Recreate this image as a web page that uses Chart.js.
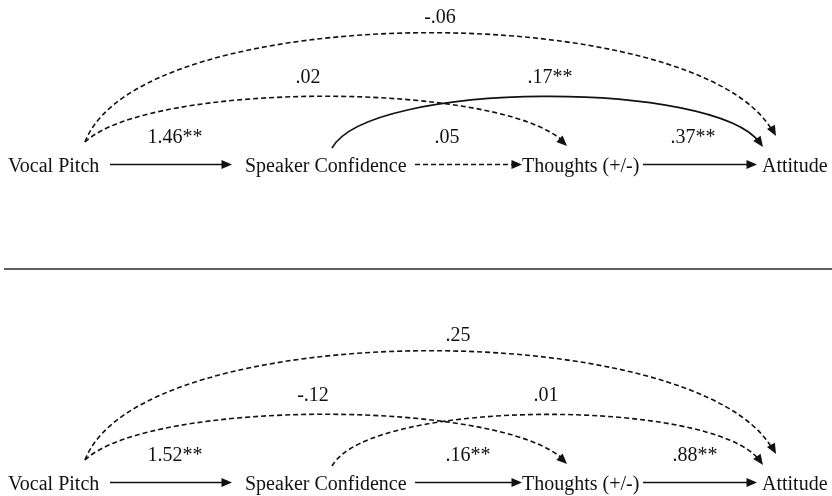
<!DOCTYPE html>
<html>
<head>
<meta charset="utf-8">
<script src="https://cdn.jsdelivr.net/npm/chart.js@4.4.0/dist/chart.umd.min.js"></script>
<style>
  html, body { margin: 0; padding: 0; background: #ffffff; }
  #wrap { width: 832px; height: 496px; }
</style>
</head>
<body>
<div id="wrap"><canvas id="c" width="832" height="496"></canvas></div>
<script>
// ---------------- DATA ----------------
const nodeNames = ["Vocal Pitch", "Speaker Confidence", "Thoughts (+/-)", "Attitude"];
const pathFrom  = [0, 1, 2, 0, 0, 1];
const pathTo    = [1, 2, 3, 3, 2, 3];
const coefPanelA = ["1.46**", ".05", ".37**", "-.06", ".02", ".17**"];
const coefPanelB = ["1.52**", ".16**", ".88**", ".25", "-.12", ".01"];
const panels = [coefPanelA, coefPanelB];

// ---------------- LAYOUT (diagram units = scale values) ----------------
const panelOffset = [0, 318];
const nodeLeft = [8, 245, 522, 762];
const nodeBaseline = 172;
const arrowY = 164.5;
// geometry of each path (same index as pathFrom/pathTo)
const pathGeom = [
  { kind: "line", x0: 110, x1: 232 },
  { kind: "line", x0: 415, x1: 522 },
  { kind: "line", x0: 643, x1: 757 },
  { kind: "curve", p: [[85, 142], [140, -2], [700, -2], [776, 136]] },
  { kind: "curve", p: [[85, 142], [150, 81], [500, 81], [567, 146]] },
  { kind: "curve", p: [[332, 148], [370, 80], [715, 80], [763, 147]] }
];
const labelPos = [
  [[175, 143], [447, 143], [693, 143], [440, 23], [308, 83], [550, 83]],
  [[175, 143], [468, 143], [695, 143], [458, 23], [313, 83], [546, 83]]
];
const separatorY = 269;

const FONT = '20px "Liberation Serif", "Times New Roman", "DejaVu Serif", serif';
const TEXT_COLOR = '#111111';
const LINE_COLOR = '#111111';

function arrowHead(ctx, tx, ty, dx, dy, len, half) {
  const L = Math.hypot(dx, dy);
  const ux = dx / L, uy = dy / L;
  const bx = tx - ux * len, by = ty - uy * len;
  ctx.save();
  ctx.setLineDash([]);
  ctx.beginPath();
  ctx.moveTo(tx, ty);
  ctx.lineTo(bx - uy * half, by + ux * half);
  ctx.lineTo(bx + uy * half, by - ux * half);
  ctx.closePath();
  ctx.fillStyle = LINE_COLOR;
  ctx.fill();
  ctx.restore();
}

const pathDiagram = {
  id: 'pathDiagram',
  afterDraw(chart) {
    const ctx = chart.ctx;
    const xs = chart.scales.x, ys = chart.scales.y;
    const X = v => xs.getPixelForValue(v);
    const Y = v => ys.getPixelForValue(v);

    panels.forEach((coefs, pi) => {
      const off = panelOffset[pi];
      // nodes
      ctx.save();
      ctx.font = FONT;
      ctx.fillStyle = TEXT_COLOR;
      ctx.textAlign = 'left';
      ctx.textBaseline = 'alphabetic';
      nodeNames.forEach((n, i) => ctx.fillText(n, X(nodeLeft[i]), Y(nodeBaseline + off)));
      ctx.restore();

      // paths
      pathFrom.forEach((f, ei) => {
        const g = pathGeom[ei];
        const sig = coefs[ei].indexOf('**') >= 0;
        ctx.save();
        ctx.strokeStyle = LINE_COLOR;
        ctx.lineWidth = 1.6;
        ctx.setLineDash(sig ? [] : [5, 3]);
        ctx.beginPath();
        if (g.kind === 'line') {
          const y = Y(arrowY + off);
          ctx.moveTo(X(g.x0), y);
          ctx.lineTo(X(g.x1) - 6, y);
          ctx.stroke();
          arrowHead(ctx, X(g.x1), y, 1, 0, 10.5, 4.5);
        } else {
          const P = g.p.map(pt => [X(pt[0]), Y(pt[1] + off)]);
          ctx.moveTo(P[0][0], P[0][1]);
          ctx.bezierCurveTo(P[1][0], P[1][1], P[2][0], P[2][1], P[3][0] - 3, P[3][1] - 4);
          ctx.stroke();
          arrowHead(ctx, P[3][0], P[3][1], P[3][0] - P[2][0], P[3][1] - P[2][1], 10.5, 4.5);
        }
        ctx.restore();

        // coefficient label
        ctx.save();
        ctx.font = FONT;
        ctx.fillStyle = TEXT_COLOR;
        ctx.textAlign = 'center';
        ctx.textBaseline = 'alphabetic';
        const lp = labelPos[pi][ei];
        ctx.fillText(coefs[ei], X(lp[0]), Y(lp[1] + off));
        ctx.restore();
      });
    });

    // separator between panels
    ctx.save();
    ctx.strokeStyle = '#2a2a2a';
    ctx.lineWidth = 1.6;
    ctx.beginPath();
    ctx.moveTo(X(4), Y(separatorY));
    ctx.lineTo(X(832), Y(separatorY));
    ctx.stroke();
    ctx.restore();
  }
};

new Chart(document.getElementById('c'), {
  type: 'scatter',
  data: { datasets: [{ data: [], pointRadius: 0 }] },
  options: {
    responsive: false,
    animation: false,
    devicePixelRatio: 1,
    layout: { padding: 0 },
    plugins: { legend: { display: false }, tooltip: { enabled: false } },
    scales: {
      x: { type: 'linear', min: 0, max: 832, display: false },
      y: { type: 'linear', min: 0, max: 496, reverse: true, display: false }
    }
  },
  plugins: [pathDiagram]
});
</script>
</body>
</html>
